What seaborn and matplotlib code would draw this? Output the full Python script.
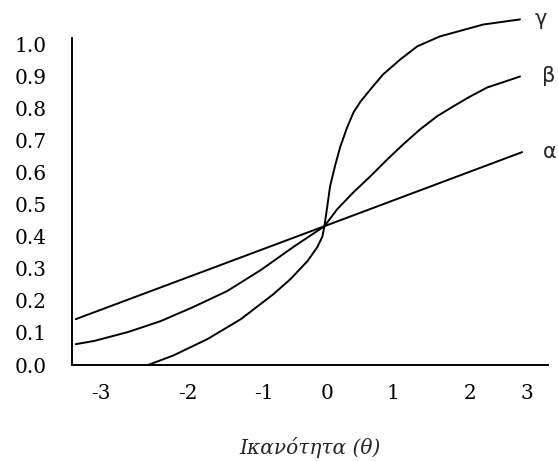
import numpy as np
import pandas as pd
import matplotlib
matplotlib.use("Agg")
import matplotlib.pyplot as plt
import seaborn as sns

# ---- data ----
theta_alpha = [-3.51, 0.0, 2.79]
p_alpha = [0.143, 0.433, 0.664]

theta_beta = [-3.51, -3.25, -2.77, -2.31, -1.85, -1.37, -0.90, -0.44, 0.0,
              0.18, 0.41, 0.65, 0.89, 1.11, 1.35, 1.59, 1.82, 2.06, 2.30, 2.52, 2.76]
p_beta = [0.065, 0.075, 0.103, 0.137, 0.181, 0.231, 0.296, 0.368, 0.433,
          0.486, 0.539, 0.589, 0.642, 0.688, 0.735, 0.776, 0.807, 0.838, 0.866, 0.882, 0.900]

theta_gamma = [-2.49, -2.13, -1.65, -1.18, -0.72, -0.48, -0.24, -0.10, -0.03, 0.0,
               0.04, 0.08, 0.155, 0.225, 0.32, 0.41, 0.51, 0.65, 0.83, 1.07, 1.31,
               1.63, 2.24, 2.76]
p_gamma = [0.0, 0.030, 0.081, 0.143, 0.221, 0.268, 0.324, 0.368, 0.400, 0.433,
           0.495, 0.558, 0.626, 0.682, 0.741, 0.788, 0.822, 0.860, 0.907, 0.953, 0.994,
           1.025, 1.062, 1.078]

curve_names = ["α", "β", "γ"]

xtick_pos = [-3.15, -1.93, -0.85, 0.04, 0.96, 2.06, 2.86]
xtick_labels = ["-3", "-2", "-1", "0", "1", "2", "3"]
ytick_vals = [0.0, 0.1, 0.2, 0.3, 0.4, 0.5, 0.6, 0.7, 0.8, 0.9, 1.0]
ytick_labels = ["0.0", "0.1", "0.2", "0.3", "0.4", "0.5", "0.6", "0.7", "0.8", "0.9", "1.0"]
x_label = "Ικανότητα (θ)"

# ---- figure ----
sns.set_style("white")
plt.rcParams["font.family"] = ["DejaVu Serif", "DejaVu Sans"]

W, H = 558, 461
fig = plt.figure(figsize=(W / 100, H / 100), dpi=100)
ax_left, ax_right, ax_bottom, ax_top = 72, 548, 365, 38
ax = fig.add_axes([ax_left / W, 1 - ax_bottom / H,
                   (ax_right - ax_left) / W, (ax_bottom - ax_top) / H])

series = [(theta_alpha, p_alpha), (theta_beta, p_beta), (theta_gamma, p_gamma)]
for (tx, py) in series:
    sns.lineplot(x=tx, y=py, ax=ax, color="black", linewidth=1.4,
                 estimator=None, sort=False, clip_on=False,
                 solid_joinstyle="round", solid_capstyle="round")

ax.set_xlim(-3.563, 3.155)
ax.set_ylim(0.0, 1.02)

for s in ["top", "right"]:
    ax.spines[s].set_visible(False)
for s in ["left", "bottom"]:
    ax.spines[s].set_color("black")
    ax.spines[s].set_linewidth(1.4)

ax.set_xticks(xtick_pos)
ax.set_xticklabels(xtick_labels)
ax.set_yticks(ytick_vals)
ax.set_yticklabels(ytick_labels)
ax.tick_params(axis="both", length=0, labelsize=14.5, colors="black")
ax.tick_params(axis="y", pad=18)
ax.tick_params(axis="x", pad=14)

ax.set_xlabel(x_label, fontsize=14.5, style="italic", family="DejaVu Serif")
ax.xaxis.set_label_coords(0.5, -0.22)

# curve labels at the right ends
label_x = [3.08, 3.07, 2.97]
label_y = [p_alpha[-1], p_beta[-1], p_gamma[-1]]
for name, lx, ly in zip(curve_names, label_x, label_y):
    ax.text(lx, ly, name, ha="left", va="center", fontsize=15,
            family="DejaVu Sans", clip_on=False)

fig.savefig("out.png", dpi=100)
